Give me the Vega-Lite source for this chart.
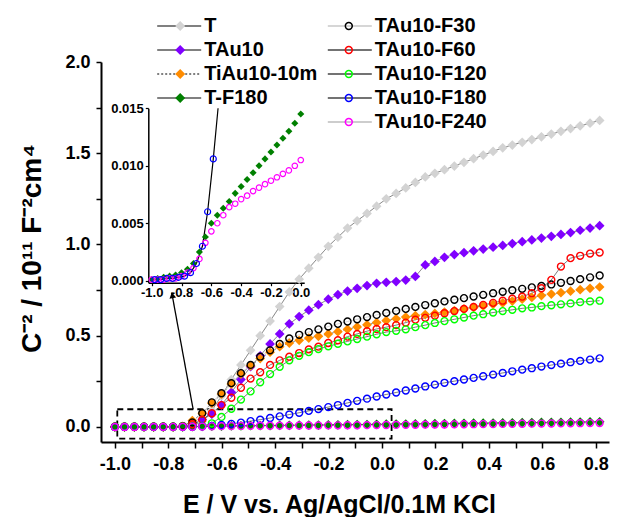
{
"$schema": "https://vega.github.io/schema/vega-lite/v6.json",
"width": 508, "height": 380,
"autosize": {"type": "none"},
"padding": {"left": 101, "top": 62, "right": 8, "bottom": 75},
"background": "white",
"config": {
 "view": {"stroke": null},
 "font": "Liberation Sans",
 "axis": {"labelFont": "Liberation Sans", "labelFontWeight": "bold", "labelColor": "black", "titleFont": "Liberation Sans", "titleFontWeight": "bold", "titleColor": "black", "domainColor": "black", "tickColor": "black", "grid": false, "labelFlush": false, "labelOverlap": false},
 "legend": {"labelFont": "Liberation Sans", "labelFontWeight": "bold", "labelFontSize": 20, "labelColor": "black", "rowPadding": 4, "padding": 0, "titlePadding": 0}
},
"datasets": {
 "main": [
{"s":"T","x":-1,"y":0.001},{"s":"T","x":-0.964,"y":0.001},{"s":"T","x":-0.927,"y":0.001},{"s":"T","x":-0.891,"y":0.001},{"s":"T","x":-0.855,"y":0.001},{"s":"T","x":-0.819,"y":0.001},{"s":"T","x":-0.782,"y":0.001},{"s":"T","x":-0.746,"y":0.002},{"s":"T","x":-0.71,"y":0.005},{"s":"T","x":-0.673,"y":0.03},{"s":"T","x":-0.637,"y":0.09},{"s":"T","x":-0.601,"y":0.17},{"s":"T","x":-0.564,"y":0.26},{"s":"T","x":-0.528,"y":0.34},{"s":"T","x":-0.492,"y":0.42},{"s":"T","x":-0.456,"y":0.5},{"s":"T","x":-0.419,"y":0.58},{"s":"T","x":-0.383,"y":0.66},{"s":"T","x":-0.347,"y":0.74},{"s":"T","x":-0.31,"y":0.81},{"s":"T","x":-0.274,"y":0.87},{"s":"T","x":-0.238,"y":0.93},{"s":"T","x":-0.201,"y":0.99},{"s":"T","x":-0.165,"y":1.04},{"s":"T","x":-0.129,"y":1.09},{"s":"T","x":-0.093,"y":1.13},{"s":"T","x":-0.056,"y":1.17},{"s":"T","x":-0.02,"y":1.21},{"s":"T","x":0.016,"y":1.25},{"s":"T","x":0.053,"y":1.28},{"s":"T","x":0.089,"y":1.31},{"s":"T","x":0.125,"y":1.34},{"s":"T","x":0.162,"y":1.37},{"s":"T","x":0.198,"y":1.39},{"s":"T","x":0.234,"y":1.41},{"s":"T","x":0.271,"y":1.43},{"s":"T","x":0.307,"y":1.45},{"s":"T","x":0.343,"y":1.47},{"s":"T","x":0.379,"y":1.49},{"s":"T","x":0.416,"y":1.51},{"s":"T","x":0.452,"y":1.53},{"s":"T","x":0.488,"y":1.545},{"s":"T","x":0.525,"y":1.56},{"s":"T","x":0.561,"y":1.575},{"s":"T","x":0.597,"y":1.59},{"s":"T","x":0.634,"y":1.605},{"s":"T","x":0.67,"y":1.62},{"s":"T","x":0.706,"y":1.635},{"s":"T","x":0.742,"y":1.65},{"s":"T","x":0.779,"y":1.665},{"s":"T","x":0.815,"y":1.68},
{"s":"TAu10","x":-1,"y":0.001},{"s":"TAu10","x":-0.964,"y":0.001},{"s":"TAu10","x":-0.927,"y":0.001},{"s":"TAu10","x":-0.891,"y":0.001},{"s":"TAu10","x":-0.855,"y":0.001},{"s":"TAu10","x":-0.819,"y":0.001},{"s":"TAu10","x":-0.782,"y":0.001},{"s":"TAu10","x":-0.746,"y":0.002},{"s":"TAu10","x":-0.71,"y":0.01},{"s":"TAu10","x":-0.673,"y":0.04},{"s":"TAu10","x":-0.637,"y":0.07},{"s":"TAu10","x":-0.601,"y":0.12},{"s":"TAu10","x":-0.564,"y":0.19},{"s":"TAu10","x":-0.528,"y":0.26},{"s":"TAu10","x":-0.492,"y":0.33},{"s":"TAu10","x":-0.456,"y":0.39},{"s":"TAu10","x":-0.419,"y":0.455},{"s":"TAu10","x":-0.383,"y":0.51},{"s":"TAu10","x":-0.347,"y":0.565},{"s":"TAu10","x":-0.31,"y":0.605},{"s":"TAu10","x":-0.274,"y":0.64},{"s":"TAu10","x":-0.238,"y":0.67},{"s":"TAu10","x":-0.201,"y":0.7},{"s":"TAu10","x":-0.165,"y":0.725},{"s":"TAu10","x":-0.129,"y":0.745},{"s":"TAu10","x":-0.093,"y":0.76},{"s":"TAu10","x":-0.056,"y":0.775},{"s":"TAu10","x":-0.02,"y":0.787},{"s":"TAu10","x":0.016,"y":0.793},{"s":"TAu10","x":0.053,"y":0.797},{"s":"TAu10","x":0.089,"y":0.805},{"s":"TAu10","x":0.125,"y":0.825},{"s":"TAu10","x":0.162,"y":0.888},{"s":"TAu10","x":0.198,"y":0.907},{"s":"TAu10","x":0.234,"y":0.93},{"s":"TAu10","x":0.271,"y":0.945},{"s":"TAu10","x":0.307,"y":0.955},{"s":"TAu10","x":0.343,"y":0.965},{"s":"TAu10","x":0.379,"y":0.975},{"s":"TAu10","x":0.416,"y":0.985},{"s":"TAu10","x":0.452,"y":0.995},{"s":"TAu10","x":0.488,"y":1.005},{"s":"TAu10","x":0.525,"y":1.015},{"s":"TAu10","x":0.561,"y":1.025},{"s":"TAu10","x":0.597,"y":1.035},{"s":"TAu10","x":0.634,"y":1.045},{"s":"TAu10","x":0.67,"y":1.055},{"s":"TAu10","x":0.706,"y":1.065},{"s":"TAu10","x":0.742,"y":1.078},{"s":"TAu10","x":0.779,"y":1.09},{"s":"TAu10","x":0.815,"y":1.103},
{"s":"TiAu10-10m","x":-1,"y":0.001},{"s":"TiAu10-10m","x":-0.964,"y":0.001},{"s":"TiAu10-10m","x":-0.927,"y":0.001},{"s":"TiAu10-10m","x":-0.891,"y":0.001},{"s":"TiAu10-10m","x":-0.855,"y":0.001},{"s":"TiAu10-10m","x":-0.819,"y":0.001},{"s":"TiAu10-10m","x":-0.782,"y":0.001},{"s":"TiAu10-10m","x":-0.746,"y":0.003},{"s":"TiAu10-10m","x":-0.71,"y":0.035},{"s":"TiAu10-10m","x":-0.673,"y":0.075},{"s":"TiAu10-10m","x":-0.637,"y":0.13},{"s":"TiAu10-10m","x":-0.601,"y":0.18},{"s":"TiAu10-10m","x":-0.564,"y":0.235},{"s":"TiAu10-10m","x":-0.528,"y":0.29},{"s":"TiAu10-10m","x":-0.492,"y":0.335},{"s":"TiAu10-10m","x":-0.456,"y":0.375},{"s":"TiAu10-10m","x":-0.419,"y":0.41},{"s":"TiAu10-10m","x":-0.383,"y":0.44},{"s":"TiAu10-10m","x":-0.347,"y":0.46},{"s":"TiAu10-10m","x":-0.31,"y":0.475},{"s":"TiAu10-10m","x":-0.274,"y":0.487},{"s":"TiAu10-10m","x":-0.238,"y":0.497},{"s":"TiAu10-10m","x":-0.201,"y":0.51},{"s":"TiAu10-10m","x":-0.165,"y":0.522},{"s":"TiAu10-10m","x":-0.129,"y":0.535},{"s":"TiAu10-10m","x":-0.093,"y":0.548},{"s":"TiAu10-10m","x":-0.056,"y":0.56},{"s":"TiAu10-10m","x":-0.02,"y":0.572},{"s":"TiAu10-10m","x":0.016,"y":0.583},{"s":"TiAu10-10m","x":0.053,"y":0.593},{"s":"TiAu10-10m","x":0.089,"y":0.602},{"s":"TiAu10-10m","x":0.125,"y":0.61},{"s":"TiAu10-10m","x":0.162,"y":0.616},{"s":"TiAu10-10m","x":0.198,"y":0.622},{"s":"TiAu10-10m","x":0.234,"y":0.63},{"s":"TiAu10-10m","x":0.271,"y":0.638},{"s":"TiAu10-10m","x":0.307,"y":0.647},{"s":"TiAu10-10m","x":0.343,"y":0.655},{"s":"TiAu10-10m","x":0.379,"y":0.663},{"s":"TiAu10-10m","x":0.416,"y":0.672},{"s":"TiAu10-10m","x":0.452,"y":0.68},{"s":"TiAu10-10m","x":0.488,"y":0.69},{"s":"TiAu10-10m","x":0.525,"y":0.7},{"s":"TiAu10-10m","x":0.561,"y":0.71},{"s":"TiAu10-10m","x":0.597,"y":0.72},{"s":"TiAu10-10m","x":0.634,"y":0.728},{"s":"TiAu10-10m","x":0.67,"y":0.736},{"s":"TiAu10-10m","x":0.706,"y":0.744},{"s":"TiAu10-10m","x":0.742,"y":0.752},{"s":"TiAu10-10m","x":0.779,"y":0.76},{"s":"TiAu10-10m","x":0.815,"y":0.767},
{"s":"T-F180","x":-1,"y":0.0001},{"s":"T-F180","x":-0.964,"y":0.0002},{"s":"T-F180","x":-0.927,"y":0.0003},{"s":"T-F180","x":-0.891,"y":0.0004},{"s":"T-F180","x":-0.855,"y":0.0005},{"s":"T-F180","x":-0.819,"y":0.0006},{"s":"T-F180","x":-0.782,"y":0.0008},{"s":"T-F180","x":-0.746,"y":0.0011},{"s":"T-F180","x":-0.71,"y":0.0017},{"s":"T-F180","x":-0.673,"y":0.0027},{"s":"T-F180","x":-0.637,"y":0.0039},{"s":"T-F180","x":-0.601,"y":0.005},{"s":"T-F180","x":-0.564,"y":0.0056},{"s":"T-F180","x":-0.528,"y":0.0062},{"s":"T-F180","x":-0.492,"y":0.0068},{"s":"T-F180","x":-0.456,"y":0.0074},{"s":"T-F180","x":-0.419,"y":0.0079},{"s":"T-F180","x":-0.383,"y":0.0085},{"s":"T-F180","x":-0.347,"y":0.009},{"s":"T-F180","x":-0.31,"y":0.0096},{"s":"T-F180","x":-0.274,"y":0.0101},{"s":"T-F180","x":-0.238,"y":0.0107},{"s":"T-F180","x":-0.201,"y":0.0112},{"s":"T-F180","x":-0.165,"y":0.0118},{"s":"T-F180","x":-0.129,"y":0.0123},{"s":"T-F180","x":-0.093,"y":0.0129},{"s":"T-F180","x":-0.056,"y":0.0135},{"s":"T-F180","x":-0.02,"y":0.0142},{"s":"T-F180","x":0.016,"y":0.0149},{"s":"T-F180","x":0.053,"y":0.0156},{"s":"T-F180","x":0.089,"y":0.0162},{"s":"T-F180","x":0.125,"y":0.0168},{"s":"T-F180","x":0.162,"y":0.0174},{"s":"T-F180","x":0.198,"y":0.018},{"s":"T-F180","x":0.234,"y":0.0186},{"s":"T-F180","x":0.271,"y":0.0192},{"s":"T-F180","x":0.307,"y":0.0198},{"s":"T-F180","x":0.343,"y":0.0204},{"s":"T-F180","x":0.379,"y":0.021},{"s":"T-F180","x":0.416,"y":0.0216},{"s":"T-F180","x":0.452,"y":0.0222},{"s":"T-F180","x":0.488,"y":0.0228},{"s":"T-F180","x":0.525,"y":0.0234},{"s":"T-F180","x":0.561,"y":0.024},{"s":"T-F180","x":0.597,"y":0.0246},{"s":"T-F180","x":0.634,"y":0.0252},{"s":"T-F180","x":0.67,"y":0.0258},{"s":"T-F180","x":0.706,"y":0.0264},{"s":"T-F180","x":0.742,"y":0.027},{"s":"T-F180","x":0.779,"y":0.0276},{"s":"T-F180","x":0.815,"y":0.0282},
{"s":"TAu10-F30","x":-1,"y":0.001},{"s":"TAu10-F30","x":-0.964,"y":0.001},{"s":"TAu10-F30","x":-0.927,"y":0.001},{"s":"TAu10-F30","x":-0.891,"y":0.001},{"s":"TAu10-F30","x":-0.855,"y":0.001},{"s":"TAu10-F30","x":-0.819,"y":0.001},{"s":"TAu10-F30","x":-0.782,"y":0.001},{"s":"TAu10-F30","x":-0.746,"y":0.005},{"s":"TAu10-F30","x":-0.71,"y":0.025},{"s":"TAu10-F30","x":-0.673,"y":0.075},{"s":"TAu10-F30","x":-0.637,"y":0.135},{"s":"TAu10-F30","x":-0.601,"y":0.185},{"s":"TAu10-F30","x":-0.564,"y":0.24},{"s":"TAu10-F30","x":-0.528,"y":0.295},{"s":"TAu10-F30","x":-0.492,"y":0.34},{"s":"TAu10-F30","x":-0.456,"y":0.385},{"s":"TAu10-F30","x":-0.419,"y":0.42},{"s":"TAu10-F30","x":-0.383,"y":0.455},{"s":"TAu10-F30","x":-0.347,"y":0.485},{"s":"TAu10-F30","x":-0.31,"y":0.505},{"s":"TAu10-F30","x":-0.274,"y":0.52},{"s":"TAu10-F30","x":-0.238,"y":0.535},{"s":"TAu10-F30","x":-0.201,"y":0.55},{"s":"TAu10-F30","x":-0.165,"y":0.565},{"s":"TAu10-F30","x":-0.129,"y":0.578},{"s":"TAu10-F30","x":-0.093,"y":0.59},{"s":"TAu10-F30","x":-0.056,"y":0.602},{"s":"TAu10-F30","x":-0.02,"y":0.614},{"s":"TAu10-F30","x":0.016,"y":0.625},{"s":"TAu10-F30","x":0.053,"y":0.636},{"s":"TAu10-F30","x":0.089,"y":0.647},{"s":"TAu10-F30","x":0.125,"y":0.658},{"s":"TAu10-F30","x":0.162,"y":0.668},{"s":"TAu10-F30","x":0.198,"y":0.678},{"s":"TAu10-F30","x":0.234,"y":0.688},{"s":"TAu10-F30","x":0.271,"y":0.697},{"s":"TAu10-F30","x":0.307,"y":0.706},{"s":"TAu10-F30","x":0.343,"y":0.715},{"s":"TAu10-F30","x":0.379,"y":0.724},{"s":"TAu10-F30","x":0.416,"y":0.733},{"s":"TAu10-F30","x":0.452,"y":0.741},{"s":"TAu10-F30","x":0.488,"y":0.749},{"s":"TAu10-F30","x":0.525,"y":0.757},{"s":"TAu10-F30","x":0.561,"y":0.765},{"s":"TAu10-F30","x":0.597,"y":0.773},{"s":"TAu10-F30","x":0.634,"y":0.781},{"s":"TAu10-F30","x":0.67,"y":0.79},{"s":"TAu10-F30","x":0.706,"y":0.8},{"s":"TAu10-F30","x":0.742,"y":0.81},{"s":"TAu10-F30","x":0.779,"y":0.82},{"s":"TAu10-F30","x":0.815,"y":0.83},
{"s":"TAu10-F60","x":-1,"y":0.001},{"s":"TAu10-F60","x":-0.964,"y":0.001},{"s":"TAu10-F60","x":-0.927,"y":0.001},{"s":"TAu10-F60","x":-0.891,"y":0.001},{"s":"TAu10-F60","x":-0.855,"y":0.001},{"s":"TAu10-F60","x":-0.819,"y":0.001},{"s":"TAu10-F60","x":-0.782,"y":0.001},{"s":"TAu10-F60","x":-0.746,"y":0.003},{"s":"TAu10-F60","x":-0.71,"y":0.015},{"s":"TAu10-F60","x":-0.673,"y":0.04},{"s":"TAu10-F60","x":-0.637,"y":0.075},{"s":"TAu10-F60","x":-0.601,"y":0.12},{"s":"TAu10-F60","x":-0.564,"y":0.16},{"s":"TAu10-F60","x":-0.528,"y":0.215},{"s":"TAu10-F60","x":-0.492,"y":0.265},{"s":"TAu10-F60","x":-0.456,"y":0.3},{"s":"TAu10-F60","x":-0.419,"y":0.34},{"s":"TAu10-F60","x":-0.383,"y":0.365},{"s":"TAu10-F60","x":-0.347,"y":0.385},{"s":"TAu10-F60","x":-0.31,"y":0.405},{"s":"TAu10-F60","x":-0.274,"y":0.425},{"s":"TAu10-F60","x":-0.238,"y":0.44},{"s":"TAu10-F60","x":-0.201,"y":0.46},{"s":"TAu10-F60","x":-0.165,"y":0.475},{"s":"TAu10-F60","x":-0.129,"y":0.495},{"s":"TAu10-F60","x":-0.093,"y":0.51},{"s":"TAu10-F60","x":-0.056,"y":0.525},{"s":"TAu10-F60","x":-0.02,"y":0.537},{"s":"TAu10-F60","x":0.016,"y":0.547},{"s":"TAu10-F60","x":0.053,"y":0.558},{"s":"TAu10-F60","x":0.089,"y":0.572},{"s":"TAu10-F60","x":0.125,"y":0.588},{"s":"TAu10-F60","x":0.162,"y":0.598},{"s":"TAu10-F60","x":0.198,"y":0.61},{"s":"TAu10-F60","x":0.234,"y":0.623},{"s":"TAu10-F60","x":0.271,"y":0.635},{"s":"TAu10-F60","x":0.307,"y":0.647},{"s":"TAu10-F60","x":0.343,"y":0.658},{"s":"TAu10-F60","x":0.379,"y":0.669},{"s":"TAu10-F60","x":0.416,"y":0.68},{"s":"TAu10-F60","x":0.452,"y":0.692},{"s":"TAu10-F60","x":0.488,"y":0.703},{"s":"TAu10-F60","x":0.525,"y":0.714},{"s":"TAu10-F60","x":0.561,"y":0.733},{"s":"TAu10-F60","x":0.597,"y":0.76},{"s":"TAu10-F60","x":0.634,"y":0.806},{"s":"TAu10-F60","x":0.67,"y":0.879},{"s":"TAu10-F60","x":0.706,"y":0.925},{"s":"TAu10-F60","x":0.742,"y":0.938},{"s":"TAu10-F60","x":0.779,"y":0.95},{"s":"TAu10-F60","x":0.815,"y":0.956},
{"s":"TAu10-F120","x":-1,"y":0.001},{"s":"TAu10-F120","x":-0.964,"y":0.001},{"s":"TAu10-F120","x":-0.927,"y":0.001},{"s":"TAu10-F120","x":-0.891,"y":0.001},{"s":"TAu10-F120","x":-0.855,"y":0.001},{"s":"TAu10-F120","x":-0.819,"y":0.001},{"s":"TAu10-F120","x":-0.782,"y":0.001},{"s":"TAu10-F120","x":-0.746,"y":0.001},{"s":"TAu10-F120","x":-0.71,"y":0.001},{"s":"TAu10-F120","x":-0.673,"y":0.005},{"s":"TAu10-F120","x":-0.637,"y":0.02},{"s":"TAu10-F120","x":-0.601,"y":0.055},{"s":"TAu10-F120","x":-0.564,"y":0.1},{"s":"TAu10-F120","x":-0.528,"y":0.15},{"s":"TAu10-F120","x":-0.492,"y":0.195},{"s":"TAu10-F120","x":-0.456,"y":0.245},{"s":"TAu10-F120","x":-0.419,"y":0.29},{"s":"TAu10-F120","x":-0.383,"y":0.33},{"s":"TAu10-F120","x":-0.347,"y":0.365},{"s":"TAu10-F120","x":-0.31,"y":0.39},{"s":"TAu10-F120","x":-0.274,"y":0.41},{"s":"TAu10-F120","x":-0.238,"y":0.427},{"s":"TAu10-F120","x":-0.201,"y":0.442},{"s":"TAu10-F120","x":-0.165,"y":0.456},{"s":"TAu10-F120","x":-0.129,"y":0.469},{"s":"TAu10-F120","x":-0.093,"y":0.482},{"s":"TAu10-F120","x":-0.056,"y":0.495},{"s":"TAu10-F120","x":-0.02,"y":0.508},{"s":"TAu10-F120","x":0.016,"y":0.52},{"s":"TAu10-F120","x":0.053,"y":0.527},{"s":"TAu10-F120","x":0.089,"y":0.535},{"s":"TAu10-F120","x":0.125,"y":0.547},{"s":"TAu10-F120","x":0.162,"y":0.558},{"s":"TAu10-F120","x":0.198,"y":0.57},{"s":"TAu10-F120","x":0.234,"y":0.58},{"s":"TAu10-F120","x":0.271,"y":0.59},{"s":"TAu10-F120","x":0.307,"y":0.6},{"s":"TAu10-F120","x":0.343,"y":0.61},{"s":"TAu10-F120","x":0.379,"y":0.618},{"s":"TAu10-F120","x":0.416,"y":0.627},{"s":"TAu10-F120","x":0.452,"y":0.635},{"s":"TAu10-F120","x":0.488,"y":0.642},{"s":"TAu10-F120","x":0.525,"y":0.65},{"s":"TAu10-F120","x":0.561,"y":0.655},{"s":"TAu10-F120","x":0.597,"y":0.662},{"s":"TAu10-F120","x":0.634,"y":0.667},{"s":"TAu10-F120","x":0.67,"y":0.672},{"s":"TAu10-F120","x":0.706,"y":0.677},{"s":"TAu10-F120","x":0.742,"y":0.684},{"s":"TAu10-F120","x":0.779,"y":0.688},{"s":"TAu10-F120","x":0.815,"y":0.692},
{"s":"TAu10-F180","x":-1,"y":0.0001},{"s":"TAu10-F180","x":-0.964,"y":0.0001},{"s":"TAu10-F180","x":-0.927,"y":0.0002},{"s":"TAu10-F180","x":-0.891,"y":0.0002},{"s":"TAu10-F180","x":-0.855,"y":0.0003},{"s":"TAu10-F180","x":-0.819,"y":0.0003},{"s":"TAu10-F180","x":-0.782,"y":0.0005},{"s":"TAu10-F180","x":-0.746,"y":0.0007},{"s":"TAu10-F180","x":-0.71,"y":0.0015},{"s":"TAu10-F180","x":-0.673,"y":0.003},{"s":"TAu10-F180","x":-0.637,"y":0.006},{"s":"TAu10-F180","x":-0.601,"y":0.0106},{"s":"TAu10-F180","x":-0.564,"y":0.017},{"s":"TAu10-F180","x":-0.528,"y":0.024},{"s":"TAu10-F180","x":-0.492,"y":0.032},{"s":"TAu10-F180","x":-0.456,"y":0.04},{"s":"TAu10-F180","x":-0.419,"y":0.049},{"s":"TAu10-F180","x":-0.383,"y":0.058},{"s":"TAu10-F180","x":-0.347,"y":0.068},{"s":"TAu10-F180","x":-0.31,"y":0.078},{"s":"TAu10-F180","x":-0.274,"y":0.088},{"s":"TAu10-F180","x":-0.238,"y":0.098},{"s":"TAu10-F180","x":-0.201,"y":0.109},{"s":"TAu10-F180","x":-0.165,"y":0.12},{"s":"TAu10-F180","x":-0.129,"y":0.132},{"s":"TAu10-F180","x":-0.093,"y":0.143},{"s":"TAu10-F180","x":-0.056,"y":0.155},{"s":"TAu10-F180","x":-0.02,"y":0.167},{"s":"TAu10-F180","x":0.016,"y":0.178},{"s":"TAu10-F180","x":0.053,"y":0.189},{"s":"TAu10-F180","x":0.089,"y":0.2},{"s":"TAu10-F180","x":0.125,"y":0.211},{"s":"TAu10-F180","x":0.162,"y":0.222},{"s":"TAu10-F180","x":0.198,"y":0.232},{"s":"TAu10-F180","x":0.234,"y":0.242},{"s":"TAu10-F180","x":0.271,"y":0.251},{"s":"TAu10-F180","x":0.307,"y":0.26},{"s":"TAu10-F180","x":0.343,"y":0.269},{"s":"TAu10-F180","x":0.379,"y":0.278},{"s":"TAu10-F180","x":0.416,"y":0.287},{"s":"TAu10-F180","x":0.452,"y":0.296},{"s":"TAu10-F180","x":0.488,"y":0.305},{"s":"TAu10-F180","x":0.525,"y":0.314},{"s":"TAu10-F180","x":0.561,"y":0.322},{"s":"TAu10-F180","x":0.597,"y":0.331},{"s":"TAu10-F180","x":0.634,"y":0.339},{"s":"TAu10-F180","x":0.67,"y":0.347},{"s":"TAu10-F180","x":0.706,"y":0.355},{"s":"TAu10-F180","x":0.742,"y":0.362},{"s":"TAu10-F180","x":0.779,"y":0.369},{"s":"TAu10-F180","x":0.815,"y":0.376},
{"s":"TAu10-F240","x":-1,"y":0.0001},{"s":"TAu10-F240","x":-0.964,"y":0.0001},{"s":"TAu10-F240","x":-0.927,"y":0.0001},{"s":"TAu10-F240","x":-0.891,"y":0.0002},{"s":"TAu10-F240","x":-0.855,"y":0.0002},{"s":"TAu10-F240","x":-0.819,"y":0.0003},{"s":"TAu10-F240","x":-0.782,"y":0.0005},{"s":"TAu10-F240","x":-0.746,"y":0.0008},{"s":"TAu10-F240","x":-0.71,"y":0.0013},{"s":"TAu10-F240","x":-0.673,"y":0.0022},{"s":"TAu10-F240","x":-0.637,"y":0.0034},{"s":"TAu10-F240","x":-0.601,"y":0.0043},{"s":"TAu10-F240","x":-0.564,"y":0.0049},{"s":"TAu10-F240","x":-0.528,"y":0.0056},{"s":"TAu10-F240","x":-0.492,"y":0.0062},{"s":"TAu10-F240","x":-0.456,"y":0.0066},{"s":"TAu10-F240","x":-0.419,"y":0.0069},{"s":"TAu10-F240","x":-0.383,"y":0.0072},{"s":"TAu10-F240","x":-0.347,"y":0.0075},{"s":"TAu10-F240","x":-0.31,"y":0.0078},{"s":"TAu10-F240","x":-0.274,"y":0.0081},{"s":"TAu10-F240","x":-0.238,"y":0.0084},{"s":"TAu10-F240","x":-0.201,"y":0.0087},{"s":"TAu10-F240","x":-0.165,"y":0.009},{"s":"TAu10-F240","x":-0.129,"y":0.0093},{"s":"TAu10-F240","x":-0.093,"y":0.0096},{"s":"TAu10-F240","x":-0.056,"y":0.0099},{"s":"TAu10-F240","x":-0.02,"y":0.0103},{"s":"TAu10-F240","x":0.016,"y":0.0107},{"s":"TAu10-F240","x":0.053,"y":0.0112},{"s":"TAu10-F240","x":0.089,"y":0.0117},{"s":"TAu10-F240","x":0.125,"y":0.0122},{"s":"TAu10-F240","x":0.162,"y":0.0127},{"s":"TAu10-F240","x":0.198,"y":0.0132},{"s":"TAu10-F240","x":0.234,"y":0.0137},{"s":"TAu10-F240","x":0.271,"y":0.0142},{"s":"TAu10-F240","x":0.307,"y":0.0147},{"s":"TAu10-F240","x":0.343,"y":0.0152},{"s":"TAu10-F240","x":0.379,"y":0.0157},{"s":"TAu10-F240","x":0.416,"y":0.0162},{"s":"TAu10-F240","x":0.452,"y":0.0167},{"s":"TAu10-F240","x":0.488,"y":0.0172},{"s":"TAu10-F240","x":0.525,"y":0.0177},{"s":"TAu10-F240","x":0.561,"y":0.0182},{"s":"TAu10-F240","x":0.597,"y":0.0187},{"s":"TAu10-F240","x":0.634,"y":0.0192},{"s":"TAu10-F240","x":0.67,"y":0.0197},{"s":"TAu10-F240","x":0.706,"y":0.0202},{"s":"TAu10-F240","x":0.742,"y":0.0207},{"s":"TAu10-F240","x":0.779,"y":0.0212},{"s":"TAu10-F240","x":0.815,"y":0.0217}
 ],
 "inset": [
{"s":"T-F180","x":-1,"y":0.0001},{"s":"T-F180","x":-0.96,"y":0.0002},{"s":"T-F180","x":-0.92,"y":0.0003},{"s":"T-F180","x":-0.88,"y":0.0004},{"s":"T-F180","x":-0.84,"y":0.0005},{"s":"T-F180","x":-0.8,"y":0.0007},{"s":"T-F180","x":-0.76,"y":0.001},{"s":"T-F180","x":-0.72,"y":0.0015},{"s":"T-F180","x":-0.68,"y":0.0025},{"s":"T-F180","x":-0.64,"y":0.0038},{"s":"T-F180","x":-0.6,"y":0.005},{"s":"T-F180","x":-0.56,"y":0.0057},{"s":"T-F180","x":-0.52,"y":0.0063},{"s":"T-F180","x":-0.48,"y":0.0069},{"s":"T-F180","x":-0.44,"y":0.0076},{"s":"T-F180","x":-0.4,"y":0.0082},{"s":"T-F180","x":-0.36,"y":0.0088},{"s":"T-F180","x":-0.32,"y":0.0094},{"s":"T-F180","x":-0.28,"y":0.01},{"s":"T-F180","x":-0.24,"y":0.0106},{"s":"T-F180","x":-0.2,"y":0.0112},{"s":"T-F180","x":-0.16,"y":0.0118},{"s":"T-F180","x":-0.12,"y":0.0124},{"s":"T-F180","x":-0.08,"y":0.013},{"s":"T-F180","x":-0.04,"y":0.0137},{"s":"T-F180","x":0,"y":0.0145},
{"s":"TAu10-F240","x":-1,"y":0.0001},{"s":"TAu10-F240","x":-0.96,"y":0.0001},{"s":"TAu10-F240","x":-0.92,"y":0.0001},{"s":"TAu10-F240","x":-0.88,"y":0.0002},{"s":"TAu10-F240","x":-0.84,"y":0.0002},{"s":"TAu10-F240","x":-0.8,"y":0.0004},{"s":"TAu10-F240","x":-0.76,"y":0.0007},{"s":"TAu10-F240","x":-0.72,"y":0.0011},{"s":"TAu10-F240","x":-0.68,"y":0.0019},{"s":"TAu10-F240","x":-0.64,"y":0.0033},{"s":"TAu10-F240","x":-0.6,"y":0.0043},{"s":"TAu10-F240","x":-0.56,"y":0.005},{"s":"TAu10-F240","x":-0.52,"y":0.0057},{"s":"TAu10-F240","x":-0.48,"y":0.0064},{"s":"TAu10-F240","x":-0.44,"y":0.0067},{"s":"TAu10-F240","x":-0.4,"y":0.0071},{"s":"TAu10-F240","x":-0.36,"y":0.0074},{"s":"TAu10-F240","x":-0.32,"y":0.0078},{"s":"TAu10-F240","x":-0.28,"y":0.0081},{"s":"TAu10-F240","x":-0.24,"y":0.0084},{"s":"TAu10-F240","x":-0.2,"y":0.0087},{"s":"TAu10-F240","x":-0.16,"y":0.009},{"s":"TAu10-F240","x":-0.12,"y":0.0093},{"s":"TAu10-F240","x":-0.08,"y":0.0096},{"s":"TAu10-F240","x":-0.04,"y":0.01},{"s":"TAu10-F240","x":0,"y":0.0105},
{"s":"TAu10-F180","x":-0.98,"y":0.0001},{"s":"TAu10-F180","x":-0.94,"y":0.0001},{"s":"TAu10-F180","x":-0.9,"y":0.0002},{"s":"TAu10-F180","x":-0.86,"y":0.0002},{"s":"TAu10-F180","x":-0.82,"y":0.0003},{"s":"TAu10-F180","x":-0.78,"y":0.0004},{"s":"TAu10-F180","x":-0.74,"y":0.0007},{"s":"TAu10-F180","x":-0.7,"y":0.0015},{"s":"TAu10-F180","x":-0.66,"y":0.003},{"s":"TAu10-F180","x":-0.625,"y":0.006},{"s":"TAu10-F180","x":-0.587,"y":0.0106},{"s":"TAu10-F180","x":-0.555,"y":0.0168}
 ],
 "box": [{"x": -0.991, "x2": 0.036, "y": -0.064, "y2": 0.097}],
 "arrow": [{"x": -0.707, "y": 0.097, "x2": -0.787, "y2": 0.735}],
 "head": [{"x": -0.785, "y": 0.722}]
},
"layer": [
 {
  "encoding": {
   "x": {"field": "x", "type": "quantitative",
    "scale": {"domain": [-1.052, 0.85], "nice": false, "zero": false},
    "axis": {"values": [-1,-0.9,-0.8,-0.7,-0.6,-0.5,-0.4,-0.3,-0.2,-0.1,0,0.1,0.2,0.3,0.4,0.5,0.6,0.7,0.8],
     "labelExpr": "round(datum.value*10)%2==0 ? replace(format(datum.value,'.1f'),'\u2212','-') : ''",
     "title": "E / V vs. Ag/AgCl/0.1M KCl", "titleFontSize": 25, "titleX": 238, "titleY": 62, "titleAlign": "center", "titleBaseline": "middle",
     "labelFontSize": 18, "labelPadding": 7, "tickSize": 6, "tickWidth": 1.5, "domainWidth": 2}},
   "y": {"field": "y", "type": "quantitative",
    "scale": {"domain": [-0.0824, 2.0], "nice": false, "zero": false},
    "axis": {"values": [0,0.25,0.5,0.75,1,1.25,1.5,1.75,2],
     "labelExpr": "datum.value % 0.5 == 0 ? format(datum.value,'.1f') : ''",
     "title": "C\u207b\u00b2 / 10\u00b9\u00b9 F\u207b\u00b2cm\u2074", "titleFontSize": 28, "titleX": -69, "titleY": 186, "titleAngle": -90, "titleAlign": "center", "titleBaseline": "middle",
     "labelFontSize": 18, "labelPadding": 6, "tickSize": 5, "tickWidth": 1.5, "domainWidth": 2}}
  },
  "layer": [
   {"data": {"name": "main"},
    "transform": [{"filter": {"field": "s", "oneOf": ["T","TAu10","TiAu10-10m","T-F180"]}}],
    "mark": {"type": "line", "strokeWidth": 0.8, "stroke": "#555555"},
    "encoding": {"strokeDash": {"field": "s", "type": "nominal",
     "scale": {"domain": ["T-F180","TiAu10-10m","TAu10","T"], "range": [[1,0],[2,2],[1,0],[1,0]]},
     "legend": {"orient": "none", "legendX": 68.2, "legendY": -46, "title": null, "values": ["T","TAu10","TiAu10-10m","T-F180"], "symbolType": "M-4.4,0H4.4", "symbolSize": 100, "symbolStrokeWidth": 1.3, "symbolStrokeColor": "#555555", "labelOffset": 15}}}},
   {"data": {"name": "main"},
    "transform": [{"filter": {"field": "s", "oneOf": ["TAu10-F30","TAu10-F60","TAu10-F120","TAu10-F180","TAu10-F240"]}}],
    "mark": {"type": "line", "strokeWidth": 0.7},
    "encoding": {"color": {"field": "s", "type": "nominal",
     "scale": {"domain": ["TAu10-F240","TAu10-F180","TAu10-F120","TAu10-F60","TAu10-F30"], "range": ["#bdbdbd","#444444","#444444","#444444","#c8c8c8"]},
     "legend": {"orient": "none", "legendX": 238.8, "legendY": -46, "title": null, "values": ["TAu10-F30","TAu10-F60","TAu10-F120","TAu10-F180","TAu10-F240"], "symbolType": "M-4.4,0H4.4", "symbolSize": 100, "symbolStrokeWidth": 1.3, "labelOffset": 15}}}},
   {"data": {"name": "box"},
    "mark": {"type": "rect", "fill": "transparent", "stroke": "black", "strokeWidth": 1.8, "strokeDash": [6,4]},
    "encoding": {"x2": {"field": "x2"}, "y2": {"field": "y2"}}},
   {"data": {"name": "arrow"},
    "mark": {"type": "rule", "color": "black", "strokeWidth": 1.3},
    "encoding": {"x2": {"field": "x2"}, "y2": {"field": "y2"}}},
   {"data": {"name": "head"},
    "mark": {"type": "point", "shape": "triangle-up", "filled": true, "color": "black", "size": 45, "angle": -10, "opacity": 1}},
   {"data": {"name": "main"},
    "transform": [{"filter": {"field": "s", "oneOf": ["T","TAu10","TiAu10-10m","T-F180"]}}],
    "mark": {"type": "point", "shape": "diamond", "filled": true, "size": 95, "opacity": 1, "strokeWidth": 0},
    "encoding": {"fill": {"field": "s", "type": "nominal",
     "scale": {"domain": ["T","TAu10","TiAu10-10m","T-F180"], "range": ["#d3d3d3","#8000ff","#ff8c00","#008000"]},
     "legend": {"orient": "none", "legendX": 69.2, "legendY": -46, "title": null, "symbolType": "diamond", "symbolSize": 100, "symbolStrokeWidth": 0, "symbolOpacity": 1, "labelExpr": "' '"}}}},
   {"data": {"name": "main"},
    "transform": [{"filter": {"field": "s", "oneOf": ["TAu10-F30","TAu10-F60","TAu10-F120","TAu10-F180","TAu10-F240"]}}],
    "mark": {"type": "point", "shape": "circle", "filled": false, "size": 48, "strokeWidth": 1.4, "opacity": 1},
    "encoding": {"stroke": {"field": "s", "type": "nominal",
     "scale": {"domain": ["TAu10-F30","TAu10-F60","TAu10-F120","TAu10-F180","TAu10-F240"], "range": ["#000000","#ff0000","#00ff00","#0000ff","#ff00ff"]},
     "legend": {"orient": "none", "legendX": 237.8, "legendY": -46, "title": null, "symbolType": "circle", "symbolSize": 48, "symbolStrokeWidth": 1.5, "symbolOpacity": 1, "labelExpr": "' '",
      "encode": {"symbols": {"update": {"fill": {"value": "white"}}}}}}}}
  ]
 },
 {
  "encoding": {
   "x": {"field": "x", "type": "quantitative",
    "scale": {"domain": [-1.023, 0.023], "range": [47.3, 203.2], "nice": false, "zero": false},
    "axis": {"orient": "bottom", "offset": -159.3, "values": [-1,-0.8,-0.6,-0.4,-0.2,0],
     "labelExpr": "replace(format(datum.value,'.1f'),'\u2212','-')", "title": null,
     "labelFontSize": 13, "labelPadding": 1, "tickSize": 3, "tickWidth": 1.2, "domainWidth": 1.5}},
   "y": {"field": "y", "type": "quantitative",
    "scale": {"domain": [-0.00017, 0.015], "range": [220.7, 46.3], "nice": false, "zero": false, "clamp": true},
    "axis": {"orient": "left", "offset": -47.3, "values": [0,0.005,0.01,0.015], "format": ".3f", "title": null,
     "labelFontSize": 13, "labelPadding": 2, "tickSize": 3, "tickWidth": 1.2, "domainWidth": 1.5}}
  },
  "layer": [
   {"data": {"name": "inset"},
    "transform": [{"filter": {"field": "s", "equal": "TAu10-F180"}}],
    "mark": {"type": "line", "color": "black", "strokeWidth": 1.2}},
   {"data": {"name": "inset"},
    "transform": [{"filter": {"field": "s", "equal": "T-F180"}}],
    "mark": {"type": "point", "shape": "diamond", "filled": true, "color": "#008000", "size": 50, "opacity": 1, "strokeWidth": 0}},
   {"data": {"name": "inset"},
    "transform": [{"filter": {"field": "s", "equal": "TAu10-F240"}}],
    "mark": {"type": "point", "shape": "circle", "filled": false, "color": "#ff00ff", "size": 30, "strokeWidth": 1.2, "opacity": 1}},
   {"data": {"name": "inset"},
    "transform": [{"filter": "datum.s == 'TAu10-F180' && datum.y <= 0.015"}],
    "mark": {"type": "point", "shape": "circle", "filled": false, "color": "#0000ff", "size": 36, "strokeWidth": 1.2, "opacity": 1}}
  ]
 }
],
"resolve": {"scale": {"x": "independent", "y": "independent"}}
}
